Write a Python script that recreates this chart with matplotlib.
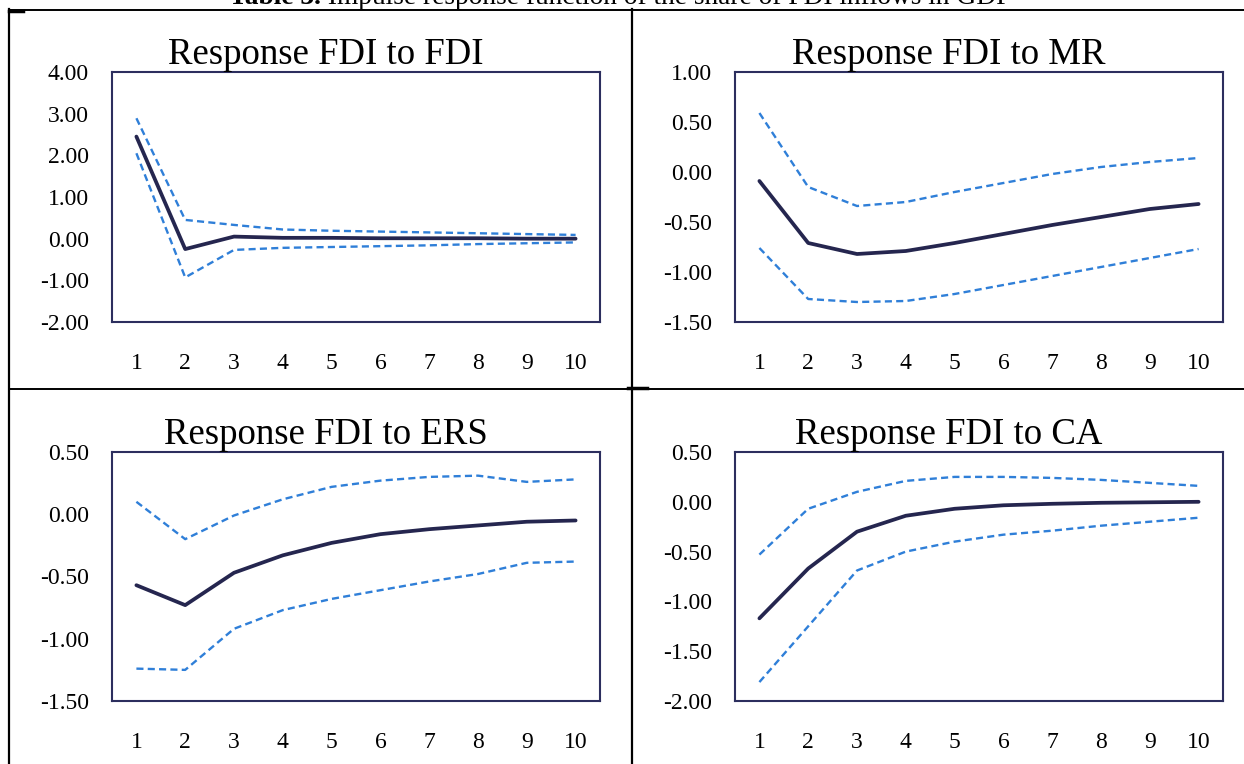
import numpy as np
import matplotlib
matplotlib.use('Agg')
import matplotlib.pyplot as plt
from matplotlib.ticker import FormatStrFormatter
from matplotlib.lines import Line2D

plt.rcParams['font.family'] = ['Liberation Serif', 'DejaVu Serif']
plt.rcParams['axes.unicode_minus'] = False

# horizon (periods)
periods = list(range(1, 11))

# Response FDI to FDI
fdi_mid = [2.45, -0.25, 0.05, 0.02, 0.02, 0.01, 0.01, 0.01, 0.00, 0.00]
fdi_up = [2.89, 0.45, 0.33, 0.22, 0.19, 0.17, 0.15, 0.13, 0.11, 0.09]
fdi_lo = [2.05, -0.93, -0.27, -0.22, -0.20, -0.18, -0.16, -0.13, -0.11, -0.09]

# Response FDI to MR
mr_mid = [-0.09, -0.71, -0.82, -0.79, -0.71, -0.62, -0.53, -0.45, -0.37, -0.32]
mr_up = [0.59, -0.15, -0.34, -0.30, -0.20, -0.11, -0.02, 0.05, 0.10, 0.14]
mr_lo = [-0.76, -1.27, -1.30, -1.29, -1.22, -1.13, -1.04, -0.95, -0.86, -0.77]

# Response FDI to ERS
ers_mid = [-0.57, -0.73, -0.47, -0.33, -0.23, -0.16, -0.12, -0.09, -0.06, -0.05]
ers_up = [0.10, -0.20, -0.01, 0.12, 0.22, 0.27, 0.30, 0.31, 0.26, 0.28]
ers_lo = [-1.24, -1.25, -0.92, -0.77, -0.68, -0.61, -0.54, -0.48, -0.39, -0.38]

# Response FDI to CA
ca_mid = [-1.17, -0.67, -0.30, -0.14, -0.07, -0.035, -0.02, -0.01, -0.005, 0.00]
ca_up = [-0.53, -0.07, 0.10, 0.21, 0.25, 0.25, 0.24, 0.22, 0.19, 0.16]
ca_lo = [-1.81, -1.25, -0.69, -0.50, -0.40, -0.33, -0.29, -0.24, -0.20, -0.16]

titles = ['Response FDI to FDI', 'Response FDI to MR',
          'Response FDI to ERS', 'Response FDI to CA']
ylims = [(-2.0, 4.0), (-1.5, 1.0), (-1.5, 0.5), (-2.0, 0.5)]
ysteps = [1.0, 0.5, 0.5, 0.5]
series = [(fdi_mid, fdi_up, fdi_lo), (mr_mid, mr_up, mr_lo),
          (ers_mid, ers_up, ers_lo), (ca_mid, ca_up, ca_lo)]

W, H = 1244, 764
# plot boxes in pixels: left, top, right, bottom
boxes = [(112, 72, 600, 322), (735, 72, 1223, 322),
         (112, 452, 600, 701), (735, 452, 1223, 701)]

NAVY = '#25264f'
BLUE = '#2f7fd8'
EDGE = '#2c2e5e'

fig = plt.figure(figsize=(W / 100, H / 100), dpi=100)
fig.patch.set_facecolor('white')

for i in range(4):
    l, t, r, b = boxes[i]
    ax = fig.add_axes([l / W, 1 - b / H, (r - l) / W, (b - t) / H])
    mid, up, lo = series[i]
    ax.plot(periods, up, color=BLUE, lw=1.7, linestyle=(0, (3, 1.8)))
    ax.plot(periods, lo, color=BLUE, lw=1.7, linestyle=(0, (3, 1.8)))
    ax.plot(periods, mid, color=NAVY, lw=2.7, solid_capstyle='round')
    ax.set_xlim(0.5, 10.5)
    ax.set_ylim(*ylims[i])
    ax.set_xticks(periods)
    ax.set_yticks(np.arange(ylims[i][0], ylims[i][1] + 1e-9, ysteps[i]))
    ax.yaxis.set_major_formatter(FormatStrFormatter('%.2f'))
    ax.tick_params(axis='both', length=0, labelsize=17, colors='black')
    ax.tick_params(axis='x', pad=22)
    ax.tick_params(axis='y', pad=16.5)
    for s in ax.spines.values():
        s.set_color(EDGE)
        s.set_linewidth(1.5)
    # chart title, centred on the chart area
    fig.text((l + 214) / W, 1 - (t - 7.5) / H, titles[i], fontsize=26.5,
             ha='center', va='baseline')

# table grid lines
def hline(x0, x1, y, lw=1.4):
    fig.add_artist(Line2D([x0 / W, x1 / W], [1 - y / H, 1 - y / H],
                          color='black', lw=lw))

def vline(x, y0, y1, lw=1.6):
    fig.add_artist(Line2D([x / W, x / W], [1 - y0 / H, 1 - y1 / H],
                          color='black', lw=lw))

hline(9, W, 9.5)
hline(9, W, 389)
vline(9, 9, H)
vline(632, 9, H)
hline(9, 23, 10.5, lw=2.5)
hline(628, 647, 388.5, lw=2.5)

# caption (cut off at the top of the page, as in the source)
renderer = fig.canvas.get_renderer()
t1 = fig.text(0, 1 - 3.5 / H, 'Table 3.', fontsize=19.7, fontweight='bold',
              va='baseline')
t2 = fig.text(0, 1 - 3.5 / H, ' Impulse response function of the share of FDI inflows in GDP',
              fontsize=19.7, va='baseline')
w1 = t1.get_window_extent(renderer).width
w2 = t2.get_window_extent(renderer).width
x0 = 620 - (w1 + w2) / 2
t1.set_x(x0 / W)
t2.set_x((x0 + w1) / W)

fig.savefig('out.png', dpi=100, facecolor='white')
